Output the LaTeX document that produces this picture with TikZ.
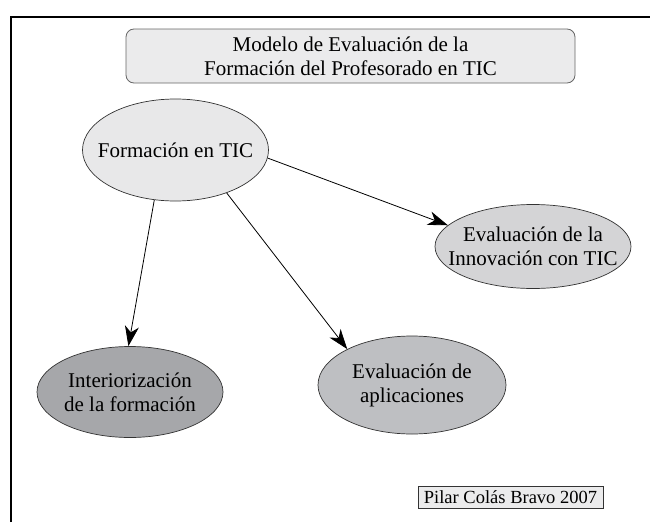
\documentclass[tikz,border=0pt]{standalone}
\usepackage{fontspec}
\setmainfont{Liberation Serif}
\usepackage{tikz}
\usetikzlibrary{shapes.geometric,arrows.meta}
\usepackage{xcolor}
\definecolor{gristitulo}{RGB}{235,235,236}
\definecolor{grisform}{RGB}{232,232,233}
\definecolor{grisinnov}{RGB}{212,212,214}
\definecolor{grisaplic}{RGB}{190,191,194}
\definecolor{grisinter}{RGB}{166,167,170}

\begin{document}
\begin{tikzpicture}[x=1pt, y=-1pt,
    elipse/.style={ellipse, draw=black!80, line width=0.7pt, inner xsep=-18pt, inner ysep=0pt,
        align=center, font=\fontsize{21}{24}\selectfont},
    flecha/.style={-{Stealth[length=20pt,width=14pt,inset=6pt]}, line width=0.8pt}]
    \useasboundingbox (0,0) rectangle (650,522);
    \draw[line width=1.1pt] (11,522) -- (11,17) -- (650,17);

    \node[draw=black!60, fill=gristitulo, rounded corners=8pt, line width=0.8pt,
        minimum width=449pt, minimum height=54pt, align=center,
        font=\fontsize{21}{24}\selectfont] (titulo) at (350.5,56)
        {Modelo de Evaluación de la\\Formación del Profesorado en TIC};

    \node[elipse, fill=grisform, minimum width=186pt, minimum height=102pt] (form) at (175.5,150) {Formación en TIC};
    \node[elipse, fill=grisinnov, minimum width=196pt, minimum height=84pt] (innov) at (533,246.5) {Evaluación de la\\Innovación con TIC};
    \node[elipse, fill=grisinter, minimum width=186pt, minimum height=91pt] (inter) at (130,392) {Interiorización\\de la formación};
    \node[elipse, fill=grisaplic, minimum width=188pt, minimum height=98pt] (aplic) at (412,385) {Evaluación de\\aplicaciones};

    \node[draw=black!80, fill=gristitulo, line width=0.8pt, inner sep=1pt,
        minimum width=185pt, minimum height=22pt,
        font=\fontsize{18.5}{20}\selectfont] (autor) at (510.5,497) {Pilar Colás Bravo 2007};

    \draw[flecha] (form.-5.6) -- (innov.166);
    \draw[flecha] (form.247.5) -- (inter.92);
    \draw[flecha] (form.-40.3) -- (aplic.151.6);
\end{tikzpicture}
\end{document}
